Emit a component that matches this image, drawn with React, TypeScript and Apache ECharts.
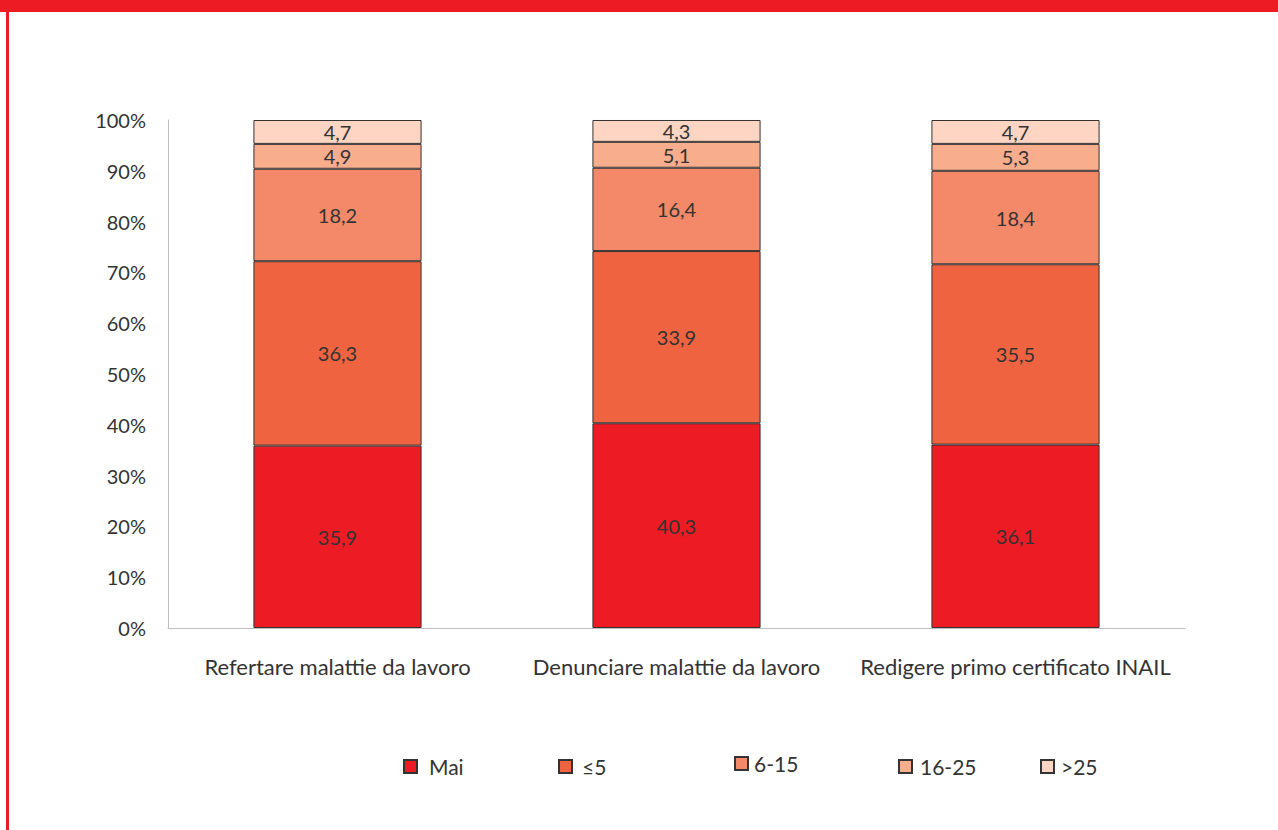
import React, { useEffect, useRef } from "react";
import * as echarts from "echarts";

const categories = [
  "Refertare malattie da lavoro",
  "Denunciare malattie da lavoro",
  "Redigere primo certificato INAIL",
];
const seriesNames = ["Mai", "≤5", "6-15", "16-25", ">25"];
const mai = [35.9, 40.3, 36.1];
const le5 = [36.3, 33.9, 35.5];
const s6to15 = [18.2, 16.4, 18.4];
const s16to25 = [4.9, 5.1, 5.3];
const gt25 = [4.7, 4.3, 4.7];
const seriesValues = [mai, le5, s6to15, s16to25, gt25];
const colors = ["#ED1C24", "#EF6341", "#F4896A", "#F8AD8D", "#FDD5C2"];
const legendLeft = [403, 558, 734, 898, 1040];
const legendTop = [756, 756, 753, 756, 756];
const legendTextPad = [7, 5, 1, 3, 2];

const FONT = "Lato, 'Noto Sans', sans-serif";

export default function App() {
  const ref = useRef<HTMLDivElement>(null);
  useEffect(() => {
    document.body.style.margin = "0";
    const chart = echarts.init(ref.current!, undefined, { renderer: "svg" });
    chart.setOption({
      animation: false,
      backgroundColor: "#fff",
      textStyle: { fontFamily: FONT },
      grid: { left: 168, right: 93, top: 120, bottom: 202 },
      legend: seriesNames.map((n, i) => ({
        data: [n],
        left: legendLeft[i],
        top: legendTop[i],
        padding: 0,
        icon: "rect",
        itemWidth: 13,
        itemHeight: 13,
        selectedMode: false,
        textStyle: {
          fontSize: 21,
          color: "#333",
          fontFamily: FONT,
          padding: [0, 0, 0, legendTextPad[i]],
        },
      })),
      xAxis: {
        type: "category",
        data: categories,
        axisLine: { lineStyle: { color: "#BFBFBF" } },
        axisTick: { show: false },
        axisLabel: {
          fontSize: 22,
          color: "#333",
          margin: 27,
          fontFamily: FONT,
          interval: 0,
          hideOverlap: false,
        },
      },
      yAxis: {
        type: "value",
        min: 0,
        max: 100,
        interval: 10,
        axisLine: { show: true, lineStyle: { color: "#BFBFBF" } },
        axisTick: { show: false },
        splitLine: { show: false },
        axisLabel: { formatter: "{value}%", fontSize: 20, color: "#333", margin: 22, fontFamily: FONT },
      },
      series: seriesNames.map((n, i) => ({
        name: n,
        type: "bar",
        stack: "total",
        barWidth: "49.6%",
        data: seriesValues[i],
        itemStyle: { color: colors[i], borderColor: "#333", borderWidth: 1 },
        label: {
          show: true,
          position: "inside",
          fontSize: 20,
          color: "#333",
          fontFamily: FONT,
          formatter: (p: any) => String(p.value).replace(".", ","),
        },
      })),
      graphic: [
        { type: "rect", left: 0, top: 0, shape: { width: 1278, height: 12 }, style: { fill: "#ED1C24" } },
        { type: "rect", left: 6, top: 12, shape: { width: 3, height: 818 }, style: { fill: "#ED1C24" } },
      ],
    });
    return () => chart.dispose();
  }, []);
  return (
    <div
      ref={ref}
      style={{ position: "fixed", left: 0, top: 0, width: 1278, height: 830 }}
    />
  );
}
